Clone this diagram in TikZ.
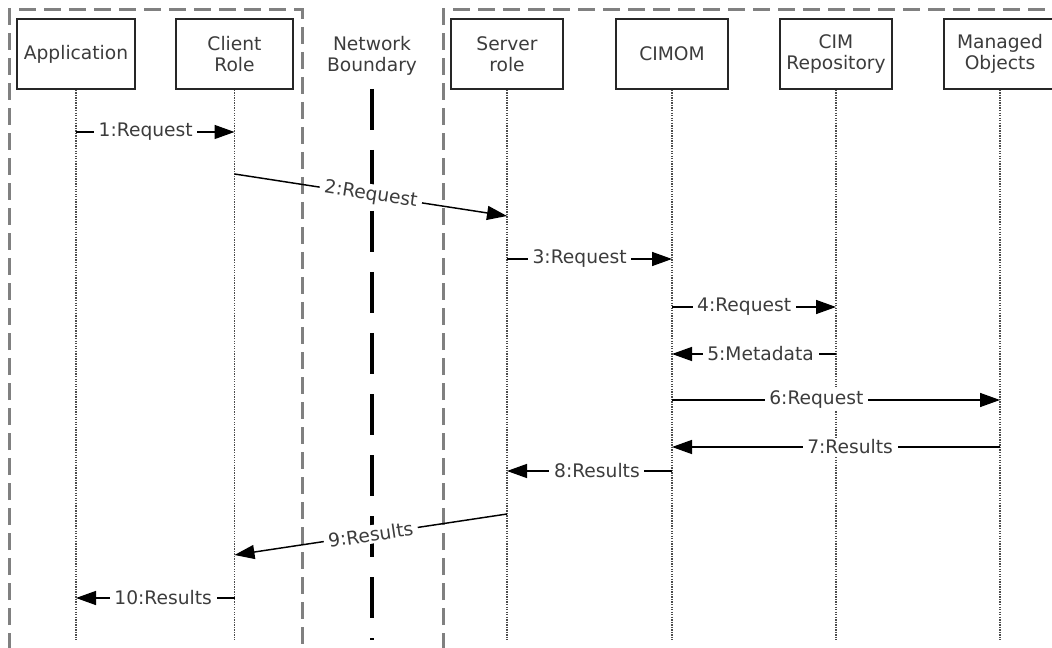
\documentclass[tikz,border=0pt]{standalone}
\usepackage{fontspec}
\setmainfont{DejaVu Sans}
\usetikzlibrary{arrows.meta}
\definecolor{txt}{HTML}{3C3C3C}
\definecolor{frame}{HTML}{808080}
\begin{document}
\begin{tikzpicture}[x=0.75pt,y=-0.75pt,
  font=\fontsize{14}{15.75}\selectfont,
  container/.style={draw=frame, line width=2.25pt, dash pattern=on 12.75pt off 6pt},
  actor/.style={draw=black!85, line width=1.1pt, fill=white, text=txt, align=center,
                minimum width=84pt, minimum height=52.5pt, inner sep=0pt},
  lifeline/.style={draw=black!70, line width=1.1pt, dash pattern=on 1pt off 0.9pt},
  boundary/.style={draw=black, line width=3pt, dash pattern=on 30.75pt off 15pt},
  msg/.style={draw=black, line width=1.1pt, -{Triangle[length=15pt,width=10.5pt]}},
  lbl/.style={fill=white, text=txt, inner xsep=3.5pt, inner ysep=1.5pt}]
\clip (0,0) rectangle (1052,648);
\useasboundingbox (0,0) rectangle (1052,648);

% client side and server side groupings
\draw[container] (9,700) -- (9,10) -- (302,10) -- (302,700);
\draw[container] (443,700) -- (443,10) -- (1100,10);

% participants
\node[actor, minimum width=88.5pt] (app) at (76,54) {Application};
\node[actor, minimum width=88pt] (cli) at (234.5,54) {Client\\Role};
\node[actor] (srv) at (507,54) {Server\\role};
\node[actor] (cim) at (672,54) {CIMOM};
\node[actor] (rep) at (836,54) {CIM\\Repository};
\node[actor] (mob) at (1000,54) {Managed\\Objects};
\node[text=txt, align=center] (nb) at (372,56) {Network\\Boundary};

% ends of the lifelines
\coordinate (appEnd) at (app |- 0,640);
\coordinate (cliEnd) at (cli |- 0,640);
\coordinate (srvEnd) at (srv |- 0,640);
\coordinate (cimEnd) at (cim |- 0,640);
\coordinate (repEnd) at (rep |- 0,640);
\coordinate (mobEnd) at (mob |- 0,640);
\coordinate (nbTop) at (372,89);
\coordinate (nbEnd) at (372,640);

% lifelines
\foreach \p in {app,cli,srv,cim,rep,mob}
  \draw[lifeline] (\p.south) -- (\p End);
\draw[boundary] (nbTop) -- (nbEnd);

% messages
\draw[msg] (app |- 0,132) -- node[lbl,pos=.44] {1:Request} (cli |- 0,132);
\draw[msg] (cli |- 0,174) -- node[lbl,sloped,midway] {2:Request} (srv |- 0,216);
\draw[msg] (srv |- 0,259) -- node[lbl,pos=.44] {3:Request} (cim |- 0,259);
\draw[msg] (cim |- 0,307) -- node[lbl,pos=.44] {4:Request} (rep |- 0,307);
\draw[msg] (rep |- 0,354) -- node[lbl,pos=.46] {5:Metadata} (cim |- 0,354);
\draw[msg] (cim |- 0,400) -- node[lbl,pos=.44] {6:Request} (mob |- 0,400);
\draw[msg] (mob |- 0,447) -- node[lbl,pos=.457] {7:Results} (cim |- 0,447);
\draw[msg] (cim |- 0,471) -- node[lbl,pos=.455] {8:Results} (srv |- 0,471);
\draw[msg] (srv |- 0,514) -- node[lbl,sloped,midway] {9:Results} (cli |- 0,555);
\draw[msg] (cli |- 0,598) -- node[lbl,pos=.45] {10:Results} (app |- 0,598);
\end{tikzpicture}
\end{document}
